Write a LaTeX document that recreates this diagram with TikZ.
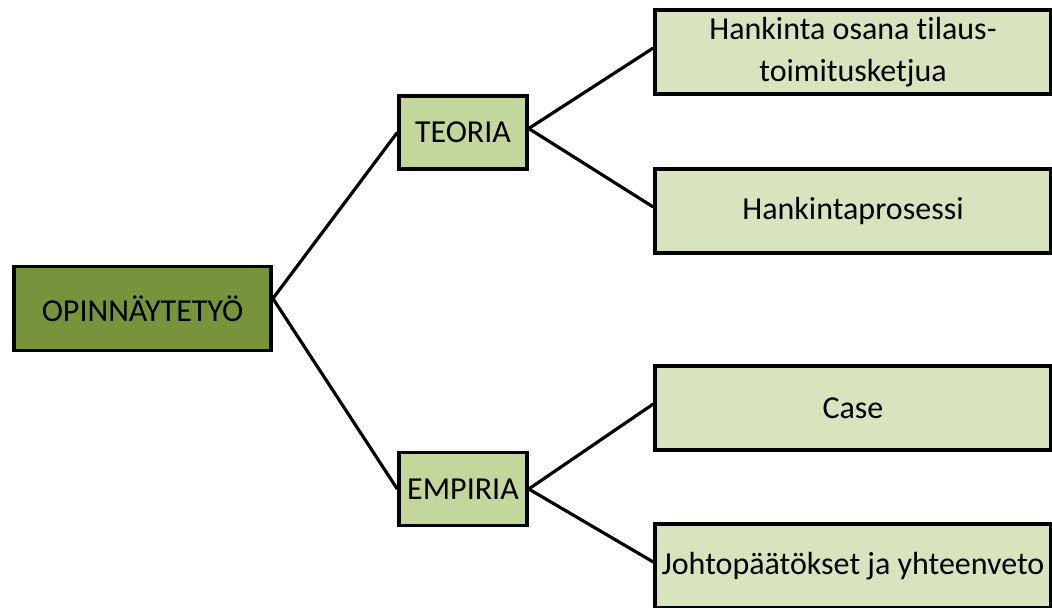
\documentclass[tikz,border=0pt]{standalone}
\usepackage{fontspec}
\setmainfont[Ligatures=NoCommon]{Carlito}
\usetikzlibrary{positioning,calc}
\definecolor{Olive}{HTML}{77933C}
\definecolor{MidGreen}{HTML}{C3D69B}
\definecolor{PaleGreen}{HTML}{D7E4BD}
\tikzset{
  rootbox/.style={draw=black,fill=Olive,line width=2.6pt,minimum width=193pt,
    minimum height=63pt,align=center,font=\fontsize{24}{29}\selectfont},
  midbox/.style={draw=black,fill=MidGreen,line width=2.6pt,minimum width=96pt,
    minimum height=55pt,align=center,font=\fontsize{24}{29}\selectfont},
  leafbox/.style={draw=black,fill=PaleGreen,line width=2.6pt,minimum width=297pt,
    minimum height=63pt,align=center,font=\fontsize{24}{31.5}\selectfont},
  link/.style={draw=black,line width=2.4pt}
}
\begin{document}
\begin{tikzpicture}[x=0.75pt,y=-0.75pt]
        \useasboundingbox (0,0) rectangle (1052,607);
        \node[rootbox] (thesis) at (142.5,308.5) {OPINNÄYTETYÖ};
        \node[midbox] (teoria) at (463,132.5) {TEORIA};
        \node[midbox] (empiria) at (463,489) {EMPIRIA};
        \node[leafbox] (hankinta) at (853,52) {Hankinta osana tilaus-\\toimitusketjua};
        \node[leafbox] (prosessi) at (853,211) {Hankintaprosessi};
        \node[leafbox] (case) at (853,408) {Case};
        \node[leafbox] (johto) at (853,566) {Johtopäätökset ja yhteenveto};
        \draw[link] ([yshift=7.5pt]thesis.east)--(teoria.west);
        \draw[link] ([yshift=7.5pt]thesis.east)--(empiria.west);
        \draw[link] ([yshift=3pt]teoria.east)--([yshift=3pt]hankinta.west);
        \draw[link] ([yshift=3pt]teoria.east)--([yshift=3pt]prosessi.west);
        \draw[link] (empiria.east)--([yshift=3pt]case.west);
        \draw[link] (empiria.east)--([yshift=3pt]johto.west);
      \end{tikzpicture}
\end{document}
